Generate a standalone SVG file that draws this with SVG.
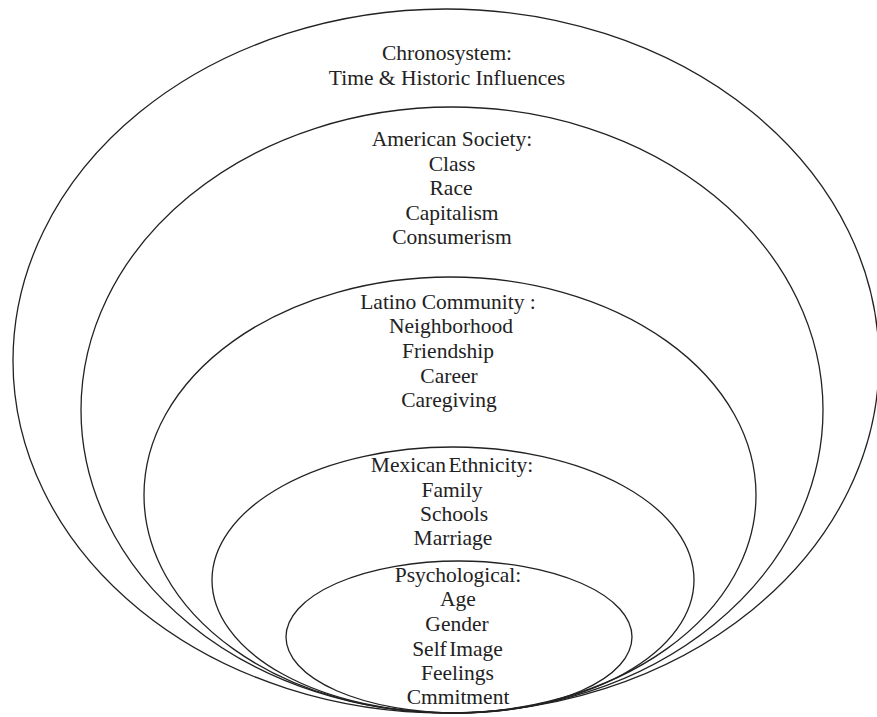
<svg xmlns="http://www.w3.org/2000/svg" width="877" height="717" viewBox="0 0 877 717">
<style>
.ring{fill:none;stroke:#222;stroke-width:1.3}
.t{font-family:"Liberation Serif","Times New Roman",serif;font-size:21.5px;fill:#222;text-anchor:middle}
.tight{word-spacing:-3px}
</style>
<rect width="877" height="717" fill="#fff"/>
<g id="chronosystem">
<ellipse class="ring" cx="446" cy="361" rx="433" ry="352"/>
<text class="t" x="447" y="60">Chronosystem:</text>
<text class="t" x="447" y="84.5">Time &amp; Historic Influences</text>
</g>
<g id="american-society">
<ellipse class="ring" cx="452" cy="410" rx="371" ry="303"/>
<text class="t" x="452" y="146">American Society:</text>
<text class="t" x="452" y="170.5">Class</text>
<text class="t" x="451" y="195">Race</text>
<text class="t" x="452" y="219.5">Capitalism</text>
<text class="t" x="452" y="244">Consumerism</text>
</g>
<g id="latino-community">
<ellipse class="ring" cx="450" cy="495" rx="306" ry="218"/>
<text class="t" x="448" y="308.5">Latino Community :</text>
<text class="t" x="451" y="333">Neighborhood</text>
<text class="t" x="448" y="357.5">Friendship</text>
<text class="t" x="449" y="382.5">Career</text>
<text class="t" x="449" y="406.5">Caregiving</text>
</g>
<g id="mexican-ethnicity">
<ellipse class="ring" cx="453" cy="580" rx="241" ry="133"/>
<text class="t tight" x="452" y="471.5">Mexican Ethnicity:</text>
<text class="t" x="452" y="496.5">Family</text>
<text class="t" x="454" y="520.5">Schools</text>
<text class="t" x="453" y="545">Marriage</text>
</g>
<g id="psychological">
<ellipse class="ring" cx="459" cy="637" rx="173" ry="76"/>
<text class="t" x="458" y="581.5">Psychological:</text>
<text class="t" x="458" y="606">Age</text>
<text class="t" x="457" y="631">Gender</text>
<text class="t tight" x="457.5" y="655.5">Self Image</text>
<text class="t" x="457.5" y="679.5">Feelings</text>
<text class="t" x="458" y="704">Cmmitment</text>
</g>
<g id="connectors"/>
</svg>
